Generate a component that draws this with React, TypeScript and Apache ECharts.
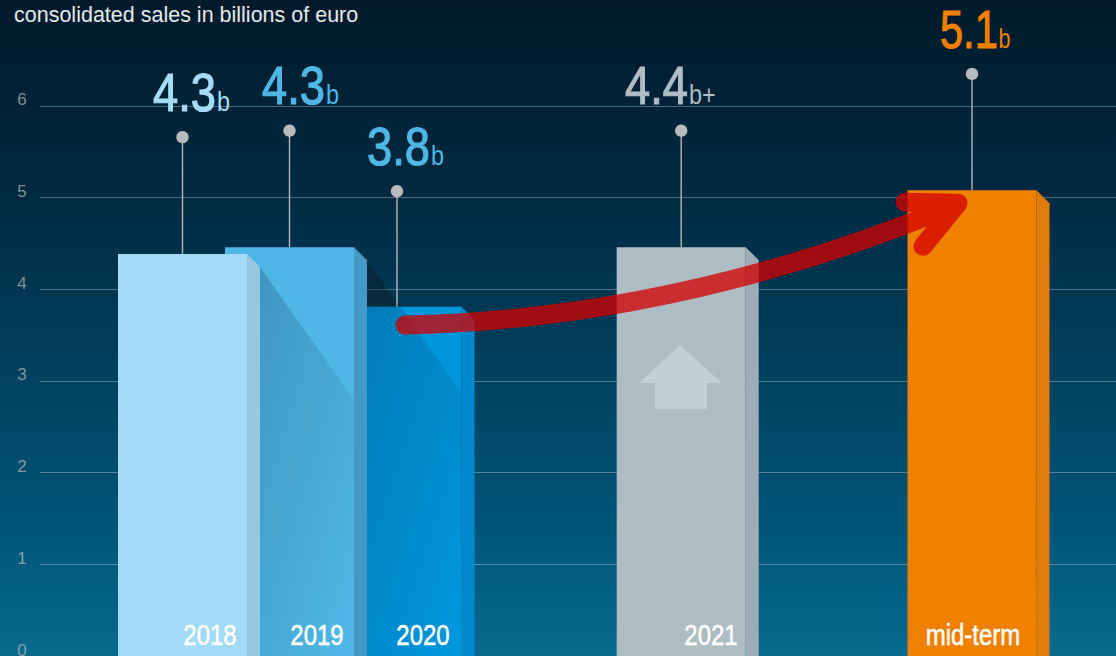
import React, { useEffect, useRef } from "react";
import * as echarts from "echarts";

// ---- data
const categories = ["2018", "2019", "2020", "2021", "mid-term"];
const valueLabels = ["4.3", "4.3", "3.8", "4.4", "5.1"];
const valueUnits = ["b", "b", "b", "b+", "b"];
const barHeights = [4.385, 4.46, 3.81, 4.46, 5.08];
const pinHeights = [5.66, 5.73, 5.07, 5.73, 6.35];
const yTicks = [0, 1, 2, 3, 4, 5, 6];

// ---- layout: x axis is laid out in page pixels
const W = 1116;
const H = 656;
const GRID_LEFT = 40;
const Y_MAX = H / 91.67;
const barCentres = [182.5, 289.5, 397, 681.2, 972];
const FRONT_W = 129;
const SIDE = 13;
const labelLefts = [153, 262, 367, 625, 940];
const labelScales = [0.84, 0.84, 0.84, 0.84, 0.77];
const categoryCentres = [210, 317, 423, 711, 973];

const frontColors = ["#a3daf5", "#4fb7e6", "#0096dc", "#aebcc4", "#f08000"];
const sideColors = ["#98c8e0", "#4498c6", "#0089cc", "#9eadb5", "#e07a0a"];
const labelColors = ["#a5dcf6", "#4fb7e6", "#4fb7e6", "#aebcc4", "#f08000"];

const SANS = '"Liberation Sans", Arial, sans-serif';
const NARROW_SCALE = 0.8;

// Shadow thrown by the left neighbour on the bar
function shadowElements(i: number, api: any, top: number, bottom: number) {
  if (i !== 1 && i !== 2) return [];
  const prevCentre = api.coord([barCentres[i - 1], barHeights[i - 1]]);
  const sx = prevCentre[0] + FRONT_W / 2 + SIDE;
  const sy = prevCentre[1] + SIDE;
  const right = api.coord([barCentres[i], 0])[0] + FRONT_W / 2;
  const endY = sy + 133;
  const slope = 133 / (right - sx);
  const out: any[] = [];
  const z2 = 20 - i * 3 + 1;
  let pts: number[][];
  if (sy < top) {
    const crossX = sx + (top - sy) / slope;
    out.push({
      type: "polygon",
      z2: 0,
      shape: { points: [[sx, sy], [crossX, top], [sx, top]] },
      style: { fill: "rgba(20,20,25,0.35)" },
    });
    pts = [[sx, top], [crossX, top], [right, endY], [right, bottom], [sx, bottom]];
  } else {
    pts = [[sx, sy], [right, endY], [right, bottom], [sx, bottom]];
  }
  out.push({
    type: "polygon",
    z2,
    shape: { points: pts },
    style: {
      fill: {
        type: "linear",
        x: 0,
        y: 0,
        x2: 0.8,
        y2: 1,
        colorStops: [
          { offset: 0, color: "rgba(0,20,40,0.2)" },
          { offset: 0.75, color: "rgba(0,20,40,0.06)" },
          { offset: 1, color: "rgba(0,20,40,0)" },
        ],
      },
    },
  });
  return out;
}

function renderBar(params: any, api: any) {
  const i = params.dataIndex;
  const [cx, top] = api.coord([api.value(0), api.value(1)]);
  const bottom = api.coord([api.value(0), 0])[1];
  const pinY = api.coord([api.value(0), api.value(2)])[1];
  const left = cx - FRONT_W / 2;
  const right = cx + FRONT_W / 2;
  const z2 = 20 - i * 3;
  const children: any[] = [
    {
      type: "line",
      z2: 1,
      shape: { x1: cx, y1: top, x2: cx, y2: pinY },
      style: { stroke: "#a9adb0", lineWidth: 1.5 },
    },
    {
      type: "circle",
      z2: 1,
      shape: { cx, cy: pinY, r: 6.2 },
      style: { fill: "#b9babc" },
    },
    {
      type: "polygon",
      z2,
      shape: {
        points: [
          [right, top],
          [right + SIDE, top + SIDE],
          [right + SIDE, bottom],
          [right, bottom],
        ],
      },
      style: { fill: sideColors[i] },
    },
    {
      type: "rect",
      z2,
      shape: { x: left, y: top, width: FRONT_W, height: bottom - top },
      style: { fill: frontColors[i] },
    },
    ...shadowElements(i, api, top, bottom),
    {
      type: "text",
      z2: 60,
      x: labelLefts[i],
      y: pinY - 45,
      scaleX: labelScales[i],
      style: {
        x: 0,
        y: 0,
        text: `{a|${valueLabels[i]}}{u|${valueUnits[i]}}`,
        verticalAlign: "middle",
        align: "left",
        rich: {
          a: {
            fontFamily: SANS,
            fontSize: 54,
            fill: labelColors[i],
            color: labelColors[i],
            stroke: labelColors[i],
            lineWidth: 1.2,
          },
          u: {
            fontFamily: SANS,
            fontSize: 28,
            fill: labelColors[i],
            color: labelColors[i],
            padding: [18, 0, 0, 1],
          },
        },
      },
    },
    {
      type: "text",
      z2: 60,
      x: categoryCentres[i],
      y: 635,
      scaleX: NARROW_SCALE,
      style: {
        x: 0,
        y: 0,
        text: categories[i],
        align: "center",
        verticalAlign: "middle",
        fontFamily: SANS,
        fontSize: 30,
        fill: "#ffffff",
        stroke: "#ffffff",
        lineWidth: 0.5,
      },
    },
  ];
  return { type: "group", children };
}

// Growth arrow from the 2020 bar to the mid-term bar
const arrowStart = [405, 3.61];
const arrowControl = [680, 3.676];
const arrowEnd = [955, 4.92];
const arrowBarbTop = [905, 4.95];
const arrowTip = [958, 4.94];
const arrowBarbLow = [923, 4.47];

function renderArrow(_params: any, api: any) {
  const p = (v: number[]) => api.coord(v).join(" ");
  const d =
    `M${p(arrowStart)} Q${p(arrowControl)} ${p(arrowEnd)} ` +
    `M${p(arrowBarbTop)} L${p(arrowTip)} L${p(arrowBarbLow)}`;
  return {
    type: "path",
    shape: { pathData: d },
    style: {
      fill: "none",
      stroke: "rgb(210,0,0)",
      lineWidth: 19,
      lineCap: "round",
      lineJoin: "round",
      opacity: 0.76,
    },
  };
}

export default function App() {
  const ref = useRef<HTMLDivElement>(null);
  useEffect(() => {
    document.body.style.margin = "0";
    const chart = echarts.init(ref.current!, undefined, { renderer: "svg" });
    chart.setOption({
      animation: false,
      backgroundColor: {
        type: "linear",
        x: 0,
        y: 0,
        x2: 0,
        y2: 1,
        colorStops: [
          { offset: 0, color: "#001a2b" },
          { offset: 0.3, color: "#002a42" },
          { offset: 0.55, color: "#003f5c" },
          { offset: 0.8, color: "#005577" },
          { offset: 1, color: "#076a8d" },
        ],
      },
      title: {
        text: "consolidated sales in billions of euro",
        left: 14,
        top: 4,
        padding: 0,
        textStyle: { color: "#e4e9ec", fontFamily: SANS, fontSize: 21.5, fontWeight: "normal" },
      },
      grid: { left: GRID_LEFT, right: 0, top: 0, height: H, outerBoundsMode: "none" },
      xAxis: { type: "value", min: GRID_LEFT, max: W, show: false },
      yAxis: {
        type: "value",
        min: 0,
        max: Y_MAX,
        axisLine: { show: false },
        axisTick: { show: false, customValues: yTicks },
        axisLabel: {
          customValues: yTicks,
          color: "rgba(185,185,185,0.72)",
          fontFamily: SANS,
          fontSize: 17,
          align: "center",
          margin: 18,
          verticalAlign: "bottom",
          lineHeight: 12,
        },
        splitLine: { show: true, lineStyle: { color: "rgba(255,255,255,0.3)", width: 1 } },
      },
      graphic: [
        {
          type: "polygon",
          z: 5,
          shape: {
            points: [
              [680, 345],
              [722, 383],
              [707, 383],
              [707, 409],
              [655, 409],
              [655, 383],
              [639, 383],
            ],
          },
          style: { fill: "#c3cfd6" },
        },
      ],
      series: [
        {
          type: "custom",
          coordinateSystem: "cartesian2d",
          clip: false,
          renderItem: renderBar,
          data: categories.map((_, i) => [barCentres[i], barHeights[i], pinHeights[i]]),
          encode: { x: 0, y: 1 },
          z: 2,
        },
        {
          type: "custom",
          coordinateSystem: "cartesian2d",
          clip: false,
          renderItem: renderArrow,
          data: [[arrowStart[0], arrowStart[1]]],
          z: 10,
          silent: true,
        },
      ],
    });
    return () => chart.dispose();
  }, []);
  return <div ref={ref} style={{ width: W, height: H }} />;
}
